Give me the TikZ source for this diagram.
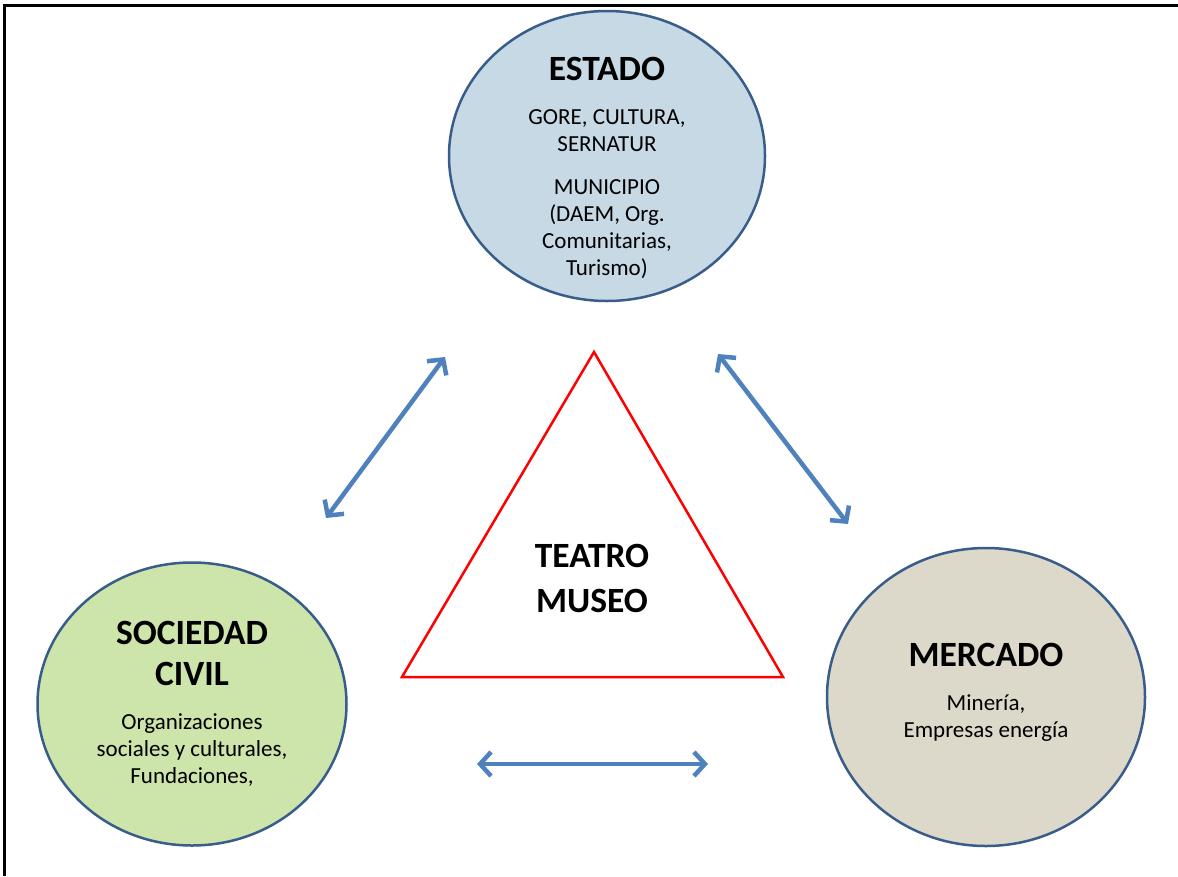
\documentclass[tikz,border=0pt]{standalone}
\usepackage{fontspec}
\setmainfont{Carlito}
\usetikzlibrary{shapes.geometric,arrows.meta}

\definecolor{estadofill}{RGB}{199,217,228}
\definecolor{civilfill}{RGB}{205,228,170}
\definecolor{mercadofill}{RGB}{221,217,202}
\definecolor{ringblue}{RGB}{56,93,138}
\definecolor{linkblue}{RGB}{79,129,189}

\tikzset{
  actor/.style={ellipse, draw=ringblue, line width=2.5pt, inner sep=0pt},
  block/.style={anchor=north, align=center, inner sep=0pt, font=\fontsize{23}{27}\selectfont},
  link/.style={linkblue, line width=4.5pt, {Straight Barb[length=11pt,width=24pt]}-{Straight Barb[length=11pt,width=24pt]}}
}

\begin{document}
\begin{tikzpicture}[x=1pt,y=-1pt]
% Set the page size
\def\hd{\bfseries\fontsize{35.5}{27}\selectfont}
\useasboundingbox (0,0) rectangle (1178,876);

% Frame
\draw[line width=2.5pt] (4.7,876) -- (4.7,5.5) -- (1178,5.5);

% The three circles
\node[actor, fill=estadofill, minimum width=316, minimum height=290] (estado) at (607,156) {};
\node[actor, fill=civilfill, minimum width=309, minimum height=283] (civil) at (192,704) {};
\node[actor, fill=mercadofill, minimum width=318, minimum height=298] (mercado) at (986,697) {};

% Texts in the circles
\node[block] (estadotxt) at (607,57) {\hd ESTADO\\[17pt]
  GORE, CULTURA,\\ SERNATUR\\[16pt]
  MUNICIPIO\\ (DAEM, Org.\\ Comunitarias,\\ Turismo)};
\node[block] (civiltxt) at (192,621) {\hd SOCIEDAD\\[14pt] \hd CIVIL\\[17pt]
  Organizaciones\\ sociales y culturales,\\ Fundaciones,};
\node[block] (mercadotxt) at (986,643) {\hd MERCADO\\[17pt]
  Minería,\\ Empresas energía};

% Triangle in the middle
\draw[red, line width=2.5pt] (594,352) -- (402,677) -- (783,677) -- cycle;
\node[block] (teatro) at (592,544) {\hd TEATRO\\[18pt] \hd MUSEO};

% Arrows
\coordinate (cl) at (326,518);
\coordinate (el) at (445,357);
\coordinate (er) at (718,354);
\coordinate (mr) at (848,524);
\coordinate (cb) at (477,764);
\coordinate (mb) at (708,764);
\draw[link] (cl) -- (el);
\draw[link] (er) -- (mr);
\draw[link] (cb) -- (mb);
\end{tikzpicture}
\end{document}
